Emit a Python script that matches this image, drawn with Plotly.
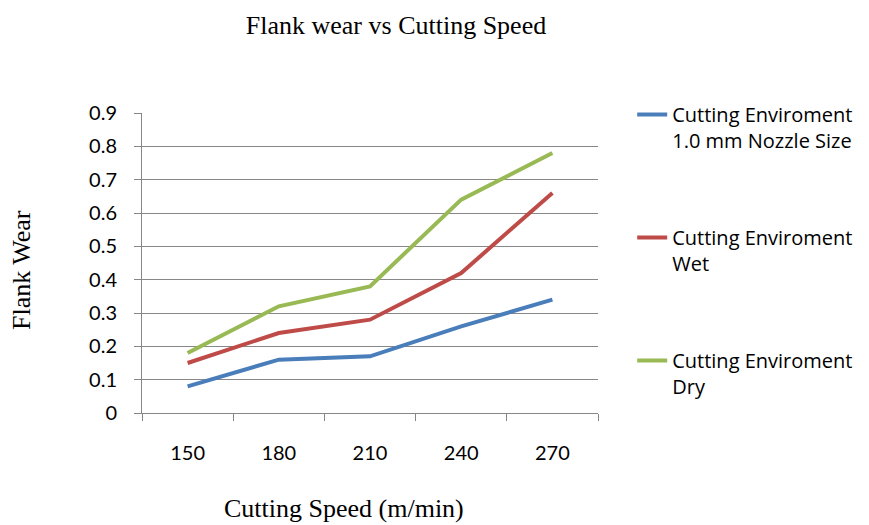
import plotly.graph_objects as go

speeds = ["150", "180", "210", "240", "270"]
nozzle = [0.08, 0.16, 0.17, 0.26, 0.34]
wet = [0.15, 0.24, 0.28, 0.42, 0.66]
dry = [0.18, 0.32, 0.38, 0.64, 0.78]
series_names = ["Cutting Enviroment<br>1.0 mm Nozzle Size",
                "Cutting Enviroment<br>Wet",
                "Cutting Enviroment<br>Dry"]
colors = ["#4A7EBB", "#BE4B48", "#98B954"]
y_ticks = [0, 0.1, 0.2, 0.3, 0.4, 0.5, 0.6, 0.7, 0.8, 0.9]
y_labels = ["0", "0.1", "0.2", "0.3", "0.4", "0.5", "0.6", "0.7", "0.8", "0.9"]

fig = go.Figure()
for i, (vals, name, col) in enumerate(zip([nozzle, wet, dry], series_names, colors)):
    fig.add_trace(go.Scatter(x=speeds, y=vals, mode="lines", name=name,
                             legendgroup=f"g{i}",
                             line=dict(color=col, width=4)))

grid = "#878787"
serif = dict(family="Liberation Serif", size=26, color="black")
fig.update_layout(
    width=869, height=525,
    paper_bgcolor="white", plot_bgcolor="white",
    margin=dict(l=134, r=279, t=105, b=120, autoexpand=False),
    title=dict(text="Flank wear vs Cutting Speed", x=388/869, xanchor="center",
               y=1 - 17/525, yanchor="middle", font=serif),
    font=dict(family="Lato", size=20, color="black"),
    showlegend=True,
    legend=dict(x=1.075, y=1.06, xanchor="left", yanchor="top",
                tracegroupgap=68, valign="top", maxheight=450,
                font=dict(family="Open Sans", size=20, color="black"),
                bgcolor="rgba(0,0,0,0)"),
    xaxis=dict(type="category", range=[-0.5, 4.5], tickson="boundaries",
               ticks="outside", ticklen=7, tickcolor=grid, showgrid=False,
               showline=True, linecolor=grid, linewidth=1,
               ticklabelstandoff=22),
    yaxis=dict(range=[0, 0.9], tickvals=y_ticks, ticktext=y_labels,
               ticks="outside", ticklen=7, tickcolor=grid,
               showgrid=True, gridcolor=grid, gridwidth=1,
               showline=True, linecolor=grid, linewidth=1, zeroline=False,
               ticklabelstandoff=13),
    annotations=[
        dict(text="Cutting Speed (m/min)", xref="paper", yref="paper",
             x=0.443, y=-0.317, xanchor="center", yanchor="middle",
             showarrow=False, font=serif),
        dict(text="Flank Wear", xref="paper", yref="paper", textangle=-90,
             x=-0.263, y=0.477, xanchor="center", yanchor="middle",
             showarrow=False, font=serif),
    ],
)

fig.write_html("out.html")
